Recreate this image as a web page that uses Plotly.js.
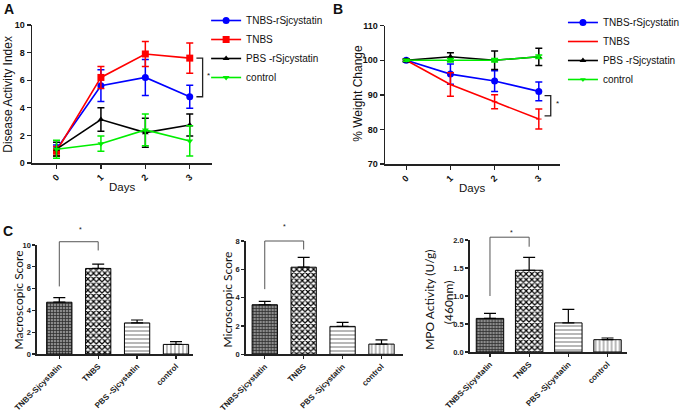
<!DOCTYPE html>
<html>
<head>
<meta charset="utf-8">
<script src="https://cdn.plot.ly/plotly-3.0.1.min.js"></script>
<style>html,body{margin:0;padding:0;background:#fff;}#chart{width:685px;height:413px;}</style>
</head>
<body>
<div id="chart"></div>
<script>
// ---------- DATA ----------
const days = [0, 1, 2, 3];
const seriesNames = ['TNBS-rSjcystatin', 'TNBS', 'PBS -rSjcystatin', 'control'];

// Panel A: Disease Activity Index
const daiBlue = [1.0, 5.6, 6.2, 4.8];
const daiBlueErr = [0.3, 1.15, 1.3, 0.83];
const daiRed = [0.85, 6.2, 7.9, 7.6];
const daiRedErr = [0.35, 0.8, 0.9, 1.1];
const daiBlack = [1.0, 3.15, 2.2, 2.75];
const daiBlackErr = [0.5, 0.85, 1.05, 0.8];
const daiGreen = [1.0, 1.4, 2.4, 1.6];
const daiGreenErr = [0.65, 0.55, 1.15, 1.1];

// Panel B: % Weight Change
const wBlue = [100, 96, 94, 91];
const wBlueErr = [0.4, 2.9, 3.0, 2.7];
const wRed = [100, 93, 88, 83];
const wRedErr = [0.3, 3.4, 2.0, 2.9];
const wBlack = [100, 101, 100, 101];
const wBlackErr = [0.4, 1.2, 2.7, 2.5];
const wGreen = [100, 100, 100, 101];
const wGreenErr = [0.3, 0.5, 0.5, 0.5];

// Panel C: bar charts
const groups = ['TNBS-Sjcystatin', 'TNBS', 'PBS -Sjcystatin', 'control'];
const macro = [4.75, 7.85, 2.85, 0.88];
const macroErr = [0.42, 0.4, 0.27, 0.25];
const micro = [3.5, 6.15, 1.97, 0.72];
const microErr = [0.24, 0.7, 0.28, 0.3];
const mpo = [0.6, 1.46, 0.52, 0.22];
const mpoErr = [0.09, 0.23, 0.24, 0.03];

// ---------- STYLE ----------
const colors = ['#0000ff', '#ff0000', '#000000', '#00ee00'];
const F = 'Liberation Sans, Arial, sans-serif';
const FC = 'Lato, Open Sans, sans-serif';

function lineTrace(name, x, y, err, color, symbol, msize, xa, ya, legend) {
  return {
    type: 'scatter', mode: 'lines+markers', name: name, x: x, y: y,
    xaxis: xa, yaxis: ya, legend: legend,
    line: {color: color, width: 1.6},
    marker: {color: color, symbol: symbol, size: msize},
    error_y: {type: 'data', array: err, color: color, thickness: 1.5, width: 3.5}
  };
}

const traces = [
  lineTrace(seriesNames[0], days, daiBlue, daiBlueErr, colors[0], 'circle', 7, 'x', 'y', 'legend'),
  lineTrace(seriesNames[1], days, daiRed, daiRedErr, colors[1], 'square', 7, 'x', 'y', 'legend'),
  lineTrace(seriesNames[2], days, daiBlack, daiBlackErr, colors[2], 'triangle-up', 6, 'x', 'y', 'legend'),
  lineTrace(seriesNames[3], days, daiGreen, daiGreenErr, colors[3], 'triangle-down', 6, 'x', 'y', 'legend'),
  lineTrace(seriesNames[0], days, wBlue, wBlueErr, colors[0], 'circle', 7, 'x2', 'y2', 'legend2'),
  lineTrace(seriesNames[1], days, wRed, wRedErr, colors[1], 'line-ew-open', 4, 'x2', 'y2', 'legend2'),
  lineTrace(seriesNames[2], days, wBlack, wBlackErr, colors[2], 'triangle-up', 6, 'x2', 'y2', 'legend2'),
  lineTrace(seriesNames[3], days, wGreen, wGreenErr, colors[3], 'triangle-down', 5, 'x2', 'y2', 'legend2')
];

const patShape = ['+', 'x', '-', '|'];
const patFg = ['#2e2e2e', '#000000', '#9a9a9a', '#8a8a8a'];
const patBg = ['#8c8c8c', '#ffffff', '#ffffff', '#ffffff'];
const patSize = [3, 4, 4, 4];
const patSolid = [0.45, 0.5, 0.35, 0.3];

function barTraces(y, err, xa, ya, w) {
  return groups.map((g, i) => ({
    type: 'bar', x: [g], y: [y[i]], xaxis: xa, yaxis: ya, showlegend: false, width: w,
    marker: {color: patBg[i], line: {color: '#000', width: 1},
             pattern: {shape: patShape[i], fgcolor: patFg[i], bgcolor: patBg[i],
                       size: patSize[i], solidity: patSolid[i], fillmode: 'replace'}},
    error_y: {type: 'data', symmetric: false, array: [err[i]], arrayminus: [0],
              color: '#000', thickness: 1.2, width: 6}
  }));
}
traces.push(...barTraces(macro, macroErr, 'x3', 'y3', 0.65));
traces.push(...barTraces(micro, microErr, 'x4', 'y4', 0.65));
traces.push(...barTraces(mpo, mpoErr, 'x5', 'y5', 0.7));

function ax(extra) {
  return Object.assign({
    showline: true, linecolor: '#222', linewidth: 1.5, ticks: 'outside', ticklen: 4,
    tickwidth: 1.3, tickcolor: '#222', showgrid: false, zeroline: false, fixedrange: true,
    tickfont: {family: F, size: 9, color: '#111', weight: 'bold'}
  }, extra);
}

const catTick = {family: F, size: 8, color: '#222', weight: 'bold'};
const numTickC = {family: F, size: 7.5, color: '#222', weight: 'bold'};

function bracket(xa, yaDomain, ylow0, ytop, ylow1) {
  const s = {type: 'line', xref: xa, yref: yaDomain, line: {color: '#555', width: 1}};
  return [
    Object.assign({}, s, {x0: 0, x1: 0, y0: ylow0, y1: ytop}),
    Object.assign({}, s, {x0: 0, x1: 1, y0: ytop, y1: ytop}),
    Object.assign({}, s, {x0: 1, x1: 1, y0: ytop, y1: ylow1})
  ];
}

const shapes = [].concat(
  [{type: 'path', xref: 'x', yref: 'y', path: 'M 3.15 7.6 L 3.29 7.6 L 3.29 4.8 L 3.15 4.8',
    line: {color: '#222', width: 1.3}}],
  [{type: 'path', xref: 'x2', yref: 'y2', path: 'M 3.13 89.8 L 3.27 89.8 L 3.27 83.9 L 3.13 83.9',
    line: {color: '#222', width: 1.3}}],
  bracket('x3', 'y3 domain', 0.62, 1.03, 0.95),
  bracket('x4', 'y4 domain', 0.575, 1.0, 0.925),
  bracket('x5', 'y5 domain', 0.5, 1.025, 0.94)
);

function txt(text, x, y, size, opts) {
  return Object.assign({text: text, x: x, y: y, xref: 'paper', yref: 'paper', showarrow: false,
    xanchor: 'center', yanchor: 'middle', font: {family: F, size: size, color: '#111'}}, opts || {});
}
const W = 685, H = 413;
const px = v => v / W, py = v => 1 - v / H;
const cFont = {family: FC, size: 12, color: '#111'};

const annotations = [
  txt('<b>A</b>', px(9), py(9), 14),
  txt('<b>B</b>', px(348), py(9), 14),
  txt('<b>C</b>', px(8), py(231), 14),
  txt('Disease Activity Index', px(8), py(94), 12, {textangle: -90}),
  txt('Days', px(125), py(187), 11.5),
  txt('% Weight Change', px(368), py(93), 12, {textangle: -90}),
  txt('Days', px(485), py(188), 11.5),
  txt('*', px(214), py(75), 8),
  txt('*', px(573), py(104), 8),
  txt('Macroscopic Score', px(19), py(300), 12, {textangle: -90, font: cFont}),
  txt('Microscopic Score', px(233), py(300), 12, {textangle: -90, font: cFont}),
  txt('MPO Activity (U/g)', px(441), py(300), 12, {textangle: -90, font: cFont}),
  txt('(460nm)', px(461), py(302), 12, {textangle: -90, font: cFont}),
  txt('*', px(83), py(229), 7),
  txt('*', px(293), py(227), 7),
  txt('*', px(526), py(232), 7)
];

const layout = {
  width: W, height: H, margin: {l: 0, r: 0, t: 0, b: 0},
  paper_bgcolor: '#fff', plot_bgcolor: 'rgba(0,0,0,0)',
  font: {family: F, color: '#000'},
  showlegend: true,
  barmode: 'overlay',
  xaxis: ax({domain: [px(33), px(218)], range: [-0.55, 3.5], anchor: 'y', tickvals: days, tickangle: -45}),
  yaxis: ax({domain: [py(163), py(25)], range: [0, 10], anchor: 'x', dtick: 2}),
  xaxis2: ax({domain: [px(396), px(576)], range: [-0.48, 3.48], anchor: 'y2', tickvals: days, tickangle: -45}),
  yaxis2: ax({domain: [py(164), py(25.7)], range: [70, 110], anchor: 'x2', dtick: 10}),
  xaxis3: ax({domain: [px(38), px(198)], range: [-0.575, 3.425], anchor: 'y3', type: 'category', tickangle: -45, tickfont: catTick, ticklen: 3}),
  yaxis3: ax({domain: [py(354), py(245)], range: [0, 10], anchor: 'x3', dtick: 2, ticklen: 3, tickfont: numTickC}),
  xaxis4: ax({domain: [px(252.7), px(414)], range: [-0.49, 3.54], anchor: 'y4', type: 'category', tickangle: -45, tickfont: catTick, ticklen: 3}),
  yaxis4: ax({domain: [py(354.3), py(241)], range: [0, 8], anchor: 'x4', dtick: 2, ticklen: 3, tickfont: numTickC}),
  xaxis5: ax({domain: [px(483), px(645)], range: [-0.52, 3.5], anchor: 'y5', type: 'category', tickangle: -45, tickfont: catTick, ticklen: 3}),
  yaxis5: ax({domain: [py(352), py(240)], range: [0, 2], anchor: 'x5', dtick: 0.5, tickformat: '.1f', ticklen: 3, tickfont: numTickC}),
  legend: {x: px(212), y: py(6), xanchor: 'left', yanchor: 'top', bgcolor: 'rgba(0,0,0,0)',
           font: {family: F, size: 10, color: '#111'}, tracegroupgap: 0, itemwidth: 30},
  legend2: {x: px(579), y: py(8), xanchor: 'left', yanchor: 'top', bgcolor: 'rgba(0,0,0,0)',
            font: {family: F, size: 10, color: '#111'}, tracegroupgap: 0, itemwidth: 30},
  shapes: shapes,
  annotations: annotations
};

Plotly.newPlot('chart', traces, layout, {staticPlot: true, displayModeBar: false});
</script>
</body>
</html>
